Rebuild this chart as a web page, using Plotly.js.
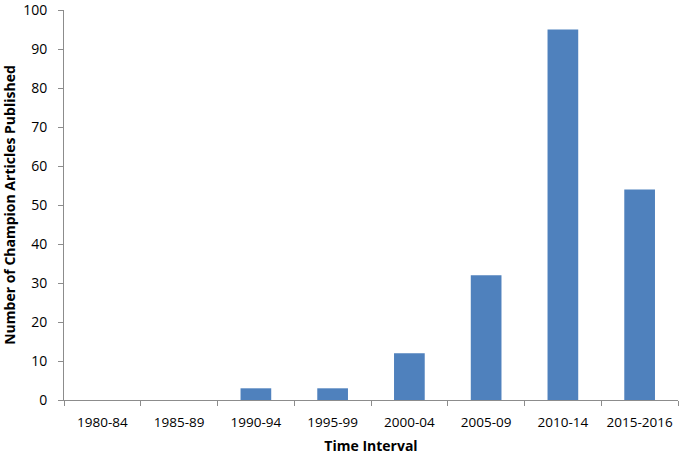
<!DOCTYPE html>
<html>
<head>
<meta charset="utf-8">
<script src="https://cdn.plot.ly/plotly-3.0.1.min.js"></script>
<style>
  body { margin: 0; background: #fff; }
  #plot { width: 682px; height: 455px; }
</style>
</head>
<body>
<div id="plot"></div>
<script>
var intervals = ["1980-84", "1985-89", "1990-94", "1995-99",
  "2000-04", "2005-09", "2010-14", "2015-2016"];
var articles = [0, 0, 3, 3, 12, 32, 95, 54];

var trace1 = {
  x: intervals,
  y: articles,
  type: "bar",
  marker: { color: "#4f81bd" },
  hoverinfo: "x+y"
};

var data = [trace1];

var layout = {
  width: 682,
  height: 455,
  margin: { l: 64, r: 4, t: 10, b: 55 },
  paper_bgcolor: "#fff",
  plot_bgcolor: "#fff",
  font: { family: "Open Sans, sans-serif", size: 13, color: "#000" },
  bargap: 0.6,
  showlegend: false,
  xaxis: {
    type: "category",
    title: { text: "<b>Time Interval</b>", font: { size: 14 }, standoff: 12 },
    showline: true,
    linecolor: "#8c8c8c",
    linewidth: 1,
    ticks: "outside",
    tickson: "boundaries",
    ticklen: 5,
    tickcolor: "#8c8c8c",
    tickangle: 0,
    ticklabelstandoff: 10,
    showgrid: false,
    zeroline: false,
    tickfont: { size: 13.5 }
  },
  yaxis: {
    title: { text: "<b>Number of Champion Articles Published</b>", font: { size: 14 }, standoff: 12 },
    range: [0, 100.02],
    dtick: 10,
    showline: true,
    linecolor: "#8c8c8c",
    linewidth: 1,
    ticks: "outside",
    ticklen: 5,
    tickcolor: "#8c8c8c",
    ticklabelstandoff: 8,
    ticklabeloverflow: "allow",
    showgrid: false,
    zeroline: false,
    tickfont: { size: 14 }
  }
};

Plotly.newPlot("plot", data, layout, { displayModeBar: false });
</script>
</body>
</html>
